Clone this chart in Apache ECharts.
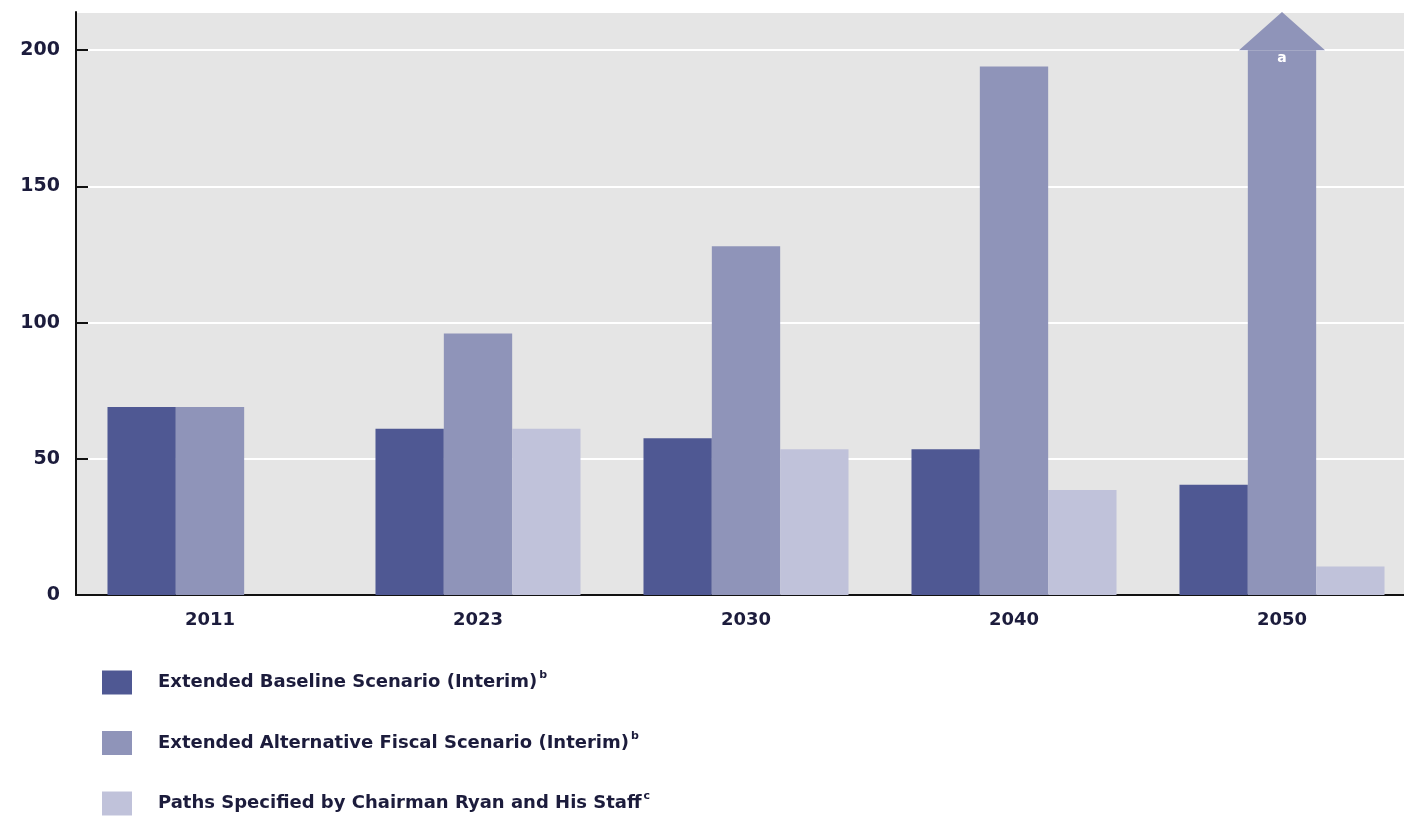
<!DOCTYPE html>
<html><head><meta charset="utf-8">
<script src="https://cdn.jsdelivr.net/npm/echarts@6/dist/echarts.min.js"></script>
<style>html,body{margin:0;padding:0;background:#fff;overflow:hidden}#c{width:1416px;height:819px}</style>
</head><body><div id="c"></div>
<script>
const categories = ['2011', '2023', '2030', '2040', '2050'];
const baseline = [69, 61, 57.5, 53.5, 40.5];
const alternative = [69, 96, 128, 194, 200];
const ryan = [null, 61, 53.5, 38.5, 10.5];
// 2050 alternative scenario runs off the scale: arrow from 200 up to axis top
const offScale = [[4, 200, 214]];
const yTicks = [0, 50, 100, 150, 200];
const names = ['Extended Baseline Scenario (Interim)', 'Extended Alternative Fiscal Scenario (Interim)', 'Paths Specified by Chairman Ryan and His Staff'];
const notes = ['b', 'b', 'c'];
const colors = ['#4f5893', '#8f94b9', '#c0c2da'];

const FONT = 'DejaVu Sans';
const TXT = '#1c1c3c';
const chart = echarts.init(document.getElementById('c'));
const catGap = '23.5%';
chart.setOption({
  animation: false,
  grid: { left: 76, top: 12, width: 1340, height: 583, show: true, backgroundColor: '#e5e5e5', borderWidth: 0 },
  legend: {
    orient: 'vertical', left: 97, top: 665, height: 200, itemWidth: 30, itemHeight: 24, itemGap: 36, icon: 'rect',
    data: names,
    formatter: function (n) { const i = names.indexOf(n); return '{t|' + n + '}{s|' + notes[i] + '}'; },
    textStyle: {
      rich: {
        t: { fontFamily: FONT, fontWeight: 'bold', fontSize: 18, color: TXT, padding: [0, 2, 0, 21] },
        s: { fontFamily: FONT, fontWeight: 'bold', fontSize: 11, color: TXT, verticalAlign: 'top', padding: [0, 0, 14, 0] }
      }
    }
  },
  xAxis: {
    type: 'category', data: categories,
    axisLine: { lineStyle: { color: '#111', width: 2 } },
    axisTick: { show: false },
    axisLabel: { fontFamily: FONT, fontWeight: 'bold', fontSize: 18, color: TXT, margin: 16 }
  },
  yAxis: {
    type: 'value', min: 0, max: 214, interval: 50,
    axisLine: { show: true, lineStyle: { color: '#111', width: 2 } },
    axisTick: { show: true, inside: true, length: 12, lineStyle: { color: '#111', width: 2 } },
    splitLine: { lineStyle: { color: '#ffffff', width: 2 } },
    axisLabel: { fontFamily: FONT, fontWeight: 'bold', fontSize: 19, color: TXT, margin: 16, showMaxLabel: false,
      formatter: v => (yTicks.indexOf(v) >= 0 ? String(v) : '') }
  },
  series: [
    { name: names[0], type: 'bar', data: baseline, barGap: '0%', barCategoryGap: catGap, itemStyle: { color: colors[0] } },
    { name: names[1], type: 'bar', data: alternative, barGap: '0%', barCategoryGap: catGap, itemStyle: { color: colors[1] } },
    { name: names[2], type: 'bar', data: ryan, barGap: '0%', barCategoryGap: catGap, itemStyle: { color: colors[2] } },
    {
      type: 'custom', data: offScale, z: 5, clip: false,
      renderItem: function (params, api) {
        const base = api.coord([api.value(0), api.value(1)]);
        const tip = api.coord([api.value(0), api.value(2)]);
        const band = api.size([1, 0])[0];
        const bw = band * (1 - 0.235) / 3;
        const hw = bw * 0.63;
        return {
          type: 'group', children: [
            { type: 'polygon', shape: { points: [[base[0] - hw, base[1]], [base[0], tip[1]], [base[0] + hw, base[1]]] }, style: { fill: colors[1] } },
            { type: 'text', style: { text: 'a', x: base[0], y: base[1] + 8, align: 'center', verticalAlign: 'middle', fill: '#fff', font: 'bold 14px "DejaVu Sans"' } }
          ]
        };
      }
    }
  ]
});
</script></body></html>
